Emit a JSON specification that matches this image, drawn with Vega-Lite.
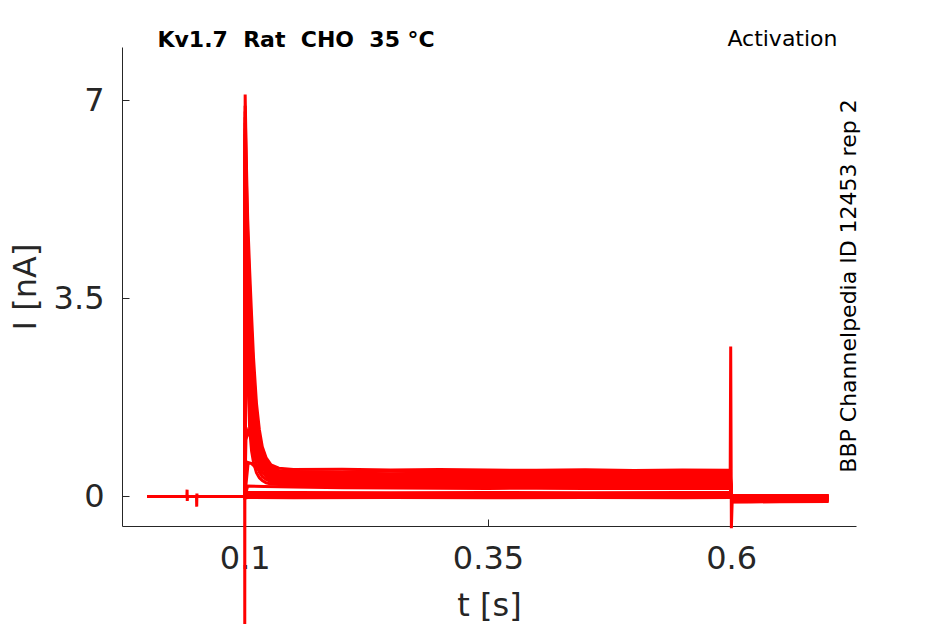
{
  "$schema": "https://vega.github.io/schema/vega-lite/v6.json",
  "width": 734,
  "height": 479,
  "autosize": "none",
  "padding": {"left": 122, "top": 47, "right": 89, "bottom": 98},
  "background": "white",
  "config": {
    "view": {"stroke": null},
    "axis": {
      "domainColor": "#262626",
      "tickColor": "#262626",
      "labelColor": "#262626",
      "titleColor": "#262626",
      "labelFont": "DejaVu Sans",
      "titleFont": "DejaVu Sans",
      "labelFontSize": 32,
      "titleFontSize": 32,
      "titleFontWeight": "normal",
      "grid": false,
      "tickSize": -7,
      "domainWidth": 1,
      "tickWidth": 1
    }
  },
  "data": {
    "values": [
      {"sweep": "b1", "t": 0, "i": 0},
      {"sweep": "b1", "t": 0.0999, "i": 0},
      {"sweep": "b1", "t": 0.1, "i": -2.3},
      {"sweep": "b1", "t": 0.1004, "i": 7.1},
      {"sweep": "b1", "t": 0.1015, "i": 6.0},
      {"sweep": "b1", "t": 0.103, "i": 4.9},
      {"sweep": "b1", "t": 0.105, "i": 4.0},
      {"sweep": "b1", "t": 0.107, "i": 3.2},
      {"sweep": "b1", "t": 0.109, "i": 2.45},
      {"sweep": "b1", "t": 0.112, "i": 1.65},
      {"sweep": "b1", "t": 0.115, "i": 1.18},
      {"sweep": "b1", "t": 0.118, "i": 0.88},
      {"sweep": "b1", "t": 0.122, "i": 0.68},
      {"sweep": "b1", "t": 0.127, "i": 0.56},
      {"sweep": "b1", "t": 0.135, "i": 0.5},
      {"sweep": "b1", "t": 0.15, "i": 0.475},
      {"sweep": "b1", "t": 0.2, "i": 0.48},
      {"sweep": "b1", "t": 0.25, "i": 0.468},
      {"sweep": "b1", "t": 0.3, "i": 0.476},
      {"sweep": "b1", "t": 0.35, "i": 0.466},
      {"sweep": "b1", "t": 0.4, "i": 0.462},
      {"sweep": "b1", "t": 0.45, "i": 0.472},
      {"sweep": "b1", "t": 0.5, "i": 0.458},
      {"sweep": "b1", "t": 0.55, "i": 0.466},
      {"sweep": "b1", "t": 0.599, "i": 0.462},
      {"sweep": "b1", "t": 0.5995, "i": 2.65},
      {"sweep": "b1", "t": 0.6002, "i": -0.56},
      {"sweep": "b1", "t": 0.601, "i": -0.1},
      {"sweep": "b1", "t": 0.62, "i": -0.097},
      {"sweep": "b1", "t": 0.65, "i": -0.094},
      {"sweep": "b1", "t": 0.7, "i": -0.09},

      {"sweep": "b2", "t": 0, "i": 0},
      {"sweep": "b2", "t": 0.0999, "i": 0},
      {"sweep": "b2", "t": 0.1, "i": 0},
      {"sweep": "b2", "t": 0.1004, "i": 6.9},
      {"sweep": "b2", "t": 0.1015, "i": 5.7},
      {"sweep": "b2", "t": 0.103, "i": 4.6},
      {"sweep": "b2", "t": 0.105, "i": 3.7},
      {"sweep": "b2", "t": 0.107, "i": 2.9},
      {"sweep": "b2", "t": 0.109, "i": 2.2},
      {"sweep": "b2", "t": 0.112, "i": 1.5},
      {"sweep": "b2", "t": 0.115, "i": 1.08},
      {"sweep": "b2", "t": 0.118, "i": 0.81},
      {"sweep": "b2", "t": 0.122, "i": 0.63},
      {"sweep": "b2", "t": 0.127, "i": 0.52},
      {"sweep": "b2", "t": 0.135, "i": 0.46},
      {"sweep": "b2", "t": 0.15, "i": 0.44},
      {"sweep": "b2", "t": 0.2, "i": 0.434},
      {"sweep": "b2", "t": 0.25, "i": 0.448},
      {"sweep": "b2", "t": 0.3, "i": 0.438},
      {"sweep": "b2", "t": 0.35, "i": 0.45},
      {"sweep": "b2", "t": 0.4, "i": 0.432},
      {"sweep": "b2", "t": 0.45, "i": 0.444},
      {"sweep": "b2", "t": 0.5, "i": 0.449},
      {"sweep": "b2", "t": 0.55, "i": 0.435},
      {"sweep": "b2", "t": 0.599, "i": 0.443},
      {"sweep": "b2", "t": 0.6008, "i": -0.093},
      {"sweep": "b2", "t": 0.62, "i": -0.09},
      {"sweep": "b2", "t": 0.65, "i": -0.087},
      {"sweep": "b2", "t": 0.7, "i": -0.083},

      {"sweep": "b3", "t": 0, "i": 0},
      {"sweep": "b3", "t": 0.0999, "i": 0},
      {"sweep": "b3", "t": 0.1, "i": 0},
      {"sweep": "b3", "t": 0.1004, "i": 6.8},
      {"sweep": "b3", "t": 0.1015, "i": 5.4},
      {"sweep": "b3", "t": 0.103, "i": 4.3},
      {"sweep": "b3", "t": 0.105, "i": 3.4},
      {"sweep": "b3", "t": 0.107, "i": 2.7},
      {"sweep": "b3", "t": 0.109, "i": 2.05},
      {"sweep": "b3", "t": 0.112, "i": 1.4},
      {"sweep": "b3", "t": 0.115, "i": 1.0},
      {"sweep": "b3", "t": 0.118, "i": 0.76},
      {"sweep": "b3", "t": 0.122, "i": 0.58},
      {"sweep": "b3", "t": 0.127, "i": 0.48},
      {"sweep": "b3", "t": 0.135, "i": 0.43},
      {"sweep": "b3", "t": 0.15, "i": 0.41},
      {"sweep": "b3", "t": 0.2, "i": 0.414},
      {"sweep": "b3", "t": 0.25, "i": 0.401},
      {"sweep": "b3", "t": 0.3, "i": 0.416},
      {"sweep": "b3", "t": 0.35, "i": 0.407},
      {"sweep": "b3", "t": 0.4, "i": 0.421},
      {"sweep": "b3", "t": 0.45, "i": 0.404},
      {"sweep": "b3", "t": 0.5, "i": 0.412},
      {"sweep": "b3", "t": 0.55, "i": 0.418},
      {"sweep": "b3", "t": 0.599, "i": 0.406},
      {"sweep": "b3", "t": 0.6008, "i": -0.085},
      {"sweep": "b3", "t": 0.62, "i": -0.082},
      {"sweep": "b3", "t": 0.65, "i": -0.079},
      {"sweep": "b3", "t": 0.7, "i": -0.075},

      {"sweep": "b4", "t": 0, "i": 0},
      {"sweep": "b4", "t": 0.0999, "i": 0},
      {"sweep": "b4", "t": 0.1, "i": 0},
      {"sweep": "b4", "t": 0.1004, "i": 6.7},
      {"sweep": "b4", "t": 0.1015, "i": 5.1},
      {"sweep": "b4", "t": 0.103, "i": 4.0},
      {"sweep": "b4", "t": 0.105, "i": 3.1},
      {"sweep": "b4", "t": 0.107, "i": 2.4},
      {"sweep": "b4", "t": 0.109, "i": 1.85},
      {"sweep": "b4", "t": 0.112, "i": 1.27},
      {"sweep": "b4", "t": 0.115, "i": 0.92},
      {"sweep": "b4", "t": 0.118, "i": 0.7},
      {"sweep": "b4", "t": 0.122, "i": 0.54},
      {"sweep": "b4", "t": 0.127, "i": 0.44},
      {"sweep": "b4", "t": 0.135, "i": 0.4},
      {"sweep": "b4", "t": 0.15, "i": 0.38},
      {"sweep": "b4", "t": 0.2, "i": 0.39},
      {"sweep": "b4", "t": 0.25, "i": 0.375},
      {"sweep": "b4", "t": 0.3, "i": 0.388},
      {"sweep": "b4", "t": 0.35, "i": 0.38},
      {"sweep": "b4", "t": 0.4, "i": 0.374},
      {"sweep": "b4", "t": 0.45, "i": 0.392},
      {"sweep": "b4", "t": 0.5, "i": 0.376},
      {"sweep": "b4", "t": 0.55, "i": 0.386},
      {"sweep": "b4", "t": 0.599, "i": 0.38},
      {"sweep": "b4", "t": 0.6008, "i": -0.078},
      {"sweep": "b4", "t": 0.62, "i": -0.075},
      {"sweep": "b4", "t": 0.65, "i": -0.072},
      {"sweep": "b4", "t": 0.7, "i": -0.068},

      {"sweep": "b5", "t": 0, "i": 0},
      {"sweep": "b5", "t": 0.0999, "i": 0},
      {"sweep": "b5", "t": 0.1, "i": 0},
      {"sweep": "b5", "t": 0.1004, "i": 6.6},
      {"sweep": "b5", "t": 0.1015, "i": 4.8},
      {"sweep": "b5", "t": 0.103, "i": 3.7},
      {"sweep": "b5", "t": 0.105, "i": 2.8},
      {"sweep": "b5", "t": 0.107, "i": 2.2},
      {"sweep": "b5", "t": 0.109, "i": 1.65},
      {"sweep": "b5", "t": 0.112, "i": 1.15},
      {"sweep": "b5", "t": 0.115, "i": 0.84},
      {"sweep": "b5", "t": 0.118, "i": 0.64},
      {"sweep": "b5", "t": 0.122, "i": 0.5},
      {"sweep": "b5", "t": 0.127, "i": 0.41},
      {"sweep": "b5", "t": 0.135, "i": 0.37},
      {"sweep": "b5", "t": 0.15, "i": 0.35},
      {"sweep": "b5", "t": 0.2, "i": 0.344},
      {"sweep": "b5", "t": 0.25, "i": 0.358},
      {"sweep": "b5", "t": 0.3, "i": 0.348},
      {"sweep": "b5", "t": 0.35, "i": 0.36},
      {"sweep": "b5", "t": 0.4, "i": 0.342},
      {"sweep": "b5", "t": 0.45, "i": 0.354},
      {"sweep": "b5", "t": 0.5, "i": 0.359},
      {"sweep": "b5", "t": 0.55, "i": 0.345},
      {"sweep": "b5", "t": 0.599, "i": 0.353},
      {"sweep": "b5", "t": 0.6008, "i": -0.07},
      {"sweep": "b5", "t": 0.62, "i": -0.067},
      {"sweep": "b5", "t": 0.65, "i": -0.064},
      {"sweep": "b5", "t": 0.7, "i": -0.06},

      {"sweep": "b6", "t": 0, "i": 0},
      {"sweep": "b6", "t": 0.0999, "i": 0},
      {"sweep": "b6", "t": 0.1, "i": 0},
      {"sweep": "b6", "t": 0.1004, "i": 6.5},
      {"sweep": "b6", "t": 0.1015, "i": 4.5},
      {"sweep": "b6", "t": 0.103, "i": 3.4},
      {"sweep": "b6", "t": 0.105, "i": 2.5},
      {"sweep": "b6", "t": 0.107, "i": 1.9},
      {"sweep": "b6", "t": 0.109, "i": 1.45},
      {"sweep": "b6", "t": 0.112, "i": 1.02},
      {"sweep": "b6", "t": 0.115, "i": 0.76},
      {"sweep": "b6", "t": 0.118, "i": 0.58},
      {"sweep": "b6", "t": 0.122, "i": 0.46},
      {"sweep": "b6", "t": 0.127, "i": 0.38},
      {"sweep": "b6", "t": 0.135, "i": 0.34},
      {"sweep": "b6", "t": 0.15, "i": 0.32},
      {"sweep": "b6", "t": 0.2, "i": 0.324},
      {"sweep": "b6", "t": 0.25, "i": 0.311},
      {"sweep": "b6", "t": 0.3, "i": 0.326},
      {"sweep": "b6", "t": 0.35, "i": 0.317},
      {"sweep": "b6", "t": 0.4, "i": 0.331},
      {"sweep": "b6", "t": 0.45, "i": 0.314},
      {"sweep": "b6", "t": 0.5, "i": 0.322},
      {"sweep": "b6", "t": 0.55, "i": 0.328},
      {"sweep": "b6", "t": 0.599, "i": 0.316},
      {"sweep": "b6", "t": 0.6008, "i": -0.063},
      {"sweep": "b6", "t": 0.62, "i": -0.06},
      {"sweep": "b6", "t": 0.65, "i": -0.057},
      {"sweep": "b6", "t": 0.7, "i": -0.053},

      {"sweep": "b7", "t": 0, "i": 0},
      {"sweep": "b7", "t": 0.0999, "i": 0},
      {"sweep": "b7", "t": 0.1, "i": 0},
      {"sweep": "b7", "t": 0.1004, "i": 6.4},
      {"sweep": "b7", "t": 0.1015, "i": 4.2},
      {"sweep": "b7", "t": 0.103, "i": 3.1},
      {"sweep": "b7", "t": 0.105, "i": 2.1},
      {"sweep": "b7", "t": 0.107, "i": 1.6},
      {"sweep": "b7", "t": 0.109, "i": 1.25},
      {"sweep": "b7", "t": 0.112, "i": 0.88},
      {"sweep": "b7", "t": 0.115, "i": 0.66},
      {"sweep": "b7", "t": 0.118, "i": 0.51},
      {"sweep": "b7", "t": 0.122, "i": 0.41},
      {"sweep": "b7", "t": 0.127, "i": 0.34},
      {"sweep": "b7", "t": 0.135, "i": 0.31},
      {"sweep": "b7", "t": 0.15, "i": 0.29},
      {"sweep": "b7", "t": 0.2, "i": 0.3},
      {"sweep": "b7", "t": 0.25, "i": 0.285},
      {"sweep": "b7", "t": 0.3, "i": 0.298},
      {"sweep": "b7", "t": 0.35, "i": 0.29},
      {"sweep": "b7", "t": 0.4, "i": 0.284},
      {"sweep": "b7", "t": 0.45, "i": 0.302},
      {"sweep": "b7", "t": 0.5, "i": 0.286},
      {"sweep": "b7", "t": 0.55, "i": 0.296},
      {"sweep": "b7", "t": 0.599, "i": 0.29},
      {"sweep": "b7", "t": 0.6008, "i": -0.056},
      {"sweep": "b7", "t": 0.62, "i": -0.053},
      {"sweep": "b7", "t": 0.65, "i": -0.05},
      {"sweep": "b7", "t": 0.7, "i": -0.046},

      {"sweep": "b8", "t": 0, "i": 0},
      {"sweep": "b8", "t": 0.0999, "i": 0},
      {"sweep": "b8", "t": 0.1, "i": 0},
      {"sweep": "b8", "t": 0.1004, "i": 6.3},
      {"sweep": "b8", "t": 0.1015, "i": 3.9},
      {"sweep": "b8", "t": 0.103, "i": 2.8},
      {"sweep": "b8", "t": 0.105, "i": 1.8},
      {"sweep": "b8", "t": 0.107, "i": 1.3},
      {"sweep": "b8", "t": 0.109, "i": 1.0},
      {"sweep": "b8", "t": 0.112, "i": 0.72},
      {"sweep": "b8", "t": 0.115, "i": 0.54},
      {"sweep": "b8", "t": 0.118, "i": 0.43},
      {"sweep": "b8", "t": 0.122, "i": 0.35},
      {"sweep": "b8", "t": 0.127, "i": 0.3},
      {"sweep": "b8", "t": 0.135, "i": 0.28},
      {"sweep": "b8", "t": 0.15, "i": 0.26},
      {"sweep": "b8", "t": 0.2, "i": 0.254},
      {"sweep": "b8", "t": 0.25, "i": 0.268},
      {"sweep": "b8", "t": 0.3, "i": 0.258},
      {"sweep": "b8", "t": 0.35, "i": 0.27},
      {"sweep": "b8", "t": 0.4, "i": 0.252},
      {"sweep": "b8", "t": 0.45, "i": 0.264},
      {"sweep": "b8", "t": 0.5, "i": 0.269},
      {"sweep": "b8", "t": 0.55, "i": 0.255},
      {"sweep": "b8", "t": 0.599, "i": 0.263},
      {"sweep": "b8", "t": 0.6008, "i": -0.049},
      {"sweep": "b8", "t": 0.62, "i": -0.046},
      {"sweep": "b8", "t": 0.65, "i": -0.043},
      {"sweep": "b8", "t": 0.7, "i": -0.04},

      {"sweep": "b9", "t": 0, "i": 0},
      {"sweep": "b9", "t": 0.0999, "i": 0},
      {"sweep": "b9", "t": 0.1, "i": 0},
      {"sweep": "b9", "t": 0.1004, "i": 6.1},
      {"sweep": "b9", "t": 0.1015, "i": 3.6},
      {"sweep": "b9", "t": 0.103, "i": 2.5},
      {"sweep": "b9", "t": 0.105, "i": 1.5},
      {"sweep": "b9", "t": 0.107, "i": 1.05},
      {"sweep": "b9", "t": 0.109, "i": 0.8},
      {"sweep": "b9", "t": 0.112, "i": 0.57},
      {"sweep": "b9", "t": 0.115, "i": 0.43},
      {"sweep": "b9", "t": 0.118, "i": 0.35},
      {"sweep": "b9", "t": 0.122, "i": 0.3},
      {"sweep": "b9", "t": 0.127, "i": 0.26},
      {"sweep": "b9", "t": 0.135, "i": 0.245},
      {"sweep": "b9", "t": 0.15, "i": 0.23},
      {"sweep": "b9", "t": 0.2, "i": 0.234},
      {"sweep": "b9", "t": 0.25, "i": 0.221},
      {"sweep": "b9", "t": 0.3, "i": 0.236},
      {"sweep": "b9", "t": 0.35, "i": 0.227},
      {"sweep": "b9", "t": 0.4, "i": 0.241},
      {"sweep": "b9", "t": 0.45, "i": 0.224},
      {"sweep": "b9", "t": 0.5, "i": 0.232},
      {"sweep": "b9", "t": 0.55, "i": 0.238},
      {"sweep": "b9", "t": 0.599, "i": 0.226},
      {"sweep": "b9", "t": 0.6008, "i": -0.041},
      {"sweep": "b9", "t": 0.62, "i": -0.038},
      {"sweep": "b9", "t": 0.65, "i": -0.035},
      {"sweep": "b9", "t": 0.7, "i": -0.032},

      {"sweep": "b10", "t": 0, "i": 0},
      {"sweep": "b10", "t": 0.0999, "i": 0},
      {"sweep": "b10", "t": 0.1, "i": 0},
      {"sweep": "b10", "t": 0.1004, "i": 6.0},
      {"sweep": "b10", "t": 0.1015, "i": 3.3},
      {"sweep": "b10", "t": 0.103, "i": 2.2},
      {"sweep": "b10", "t": 0.105, "i": 1.2},
      {"sweep": "b10", "t": 0.107, "i": 0.8},
      {"sweep": "b10", "t": 0.109, "i": 0.6},
      {"sweep": "b10", "t": 0.112, "i": 0.42},
      {"sweep": "b10", "t": 0.115, "i": 0.33},
      {"sweep": "b10", "t": 0.118, "i": 0.28},
      {"sweep": "b10", "t": 0.122, "i": 0.24},
      {"sweep": "b10", "t": 0.127, "i": 0.22},
      {"sweep": "b10", "t": 0.135, "i": 0.21},
      {"sweep": "b10", "t": 0.15, "i": 0.2},
      {"sweep": "b10", "t": 0.2, "i": 0.21},
      {"sweep": "b10", "t": 0.25, "i": 0.195},
      {"sweep": "b10", "t": 0.3, "i": 0.208},
      {"sweep": "b10", "t": 0.35, "i": 0.2},
      {"sweep": "b10", "t": 0.4, "i": 0.194},
      {"sweep": "b10", "t": 0.45, "i": 0.212},
      {"sweep": "b10", "t": 0.5, "i": 0.196},
      {"sweep": "b10", "t": 0.55, "i": 0.206},
      {"sweep": "b10", "t": 0.599, "i": 0.2},
      {"sweep": "b10", "t": 0.6008, "i": -0.034},
      {"sweep": "b10", "t": 0.62, "i": -0.031},
      {"sweep": "b10", "t": 0.65, "i": -0.028},
      {"sweep": "b10", "t": 0.7, "i": -0.025},

      {"sweep": "h1", "t": 0, "i": 0},
      {"sweep": "h1", "t": 0.0999, "i": 0},
      {"sweep": "h1", "t": 0.1, "i": 0},
      {"sweep": "h1", "t": 0.1012, "i": 1.0},
      {"sweep": "h1", "t": 0.1034, "i": 1.15},
      {"sweep": "h1", "t": 0.106, "i": 1.05},
      {"sweep": "h1", "t": 0.11, "i": 0.88},
      {"sweep": "h1", "t": 0.114, "i": 0.72},
      {"sweep": "h1", "t": 0.118, "i": 0.6},
      {"sweep": "h1", "t": 0.123, "i": 0.45},
      {"sweep": "h1", "t": 0.13, "i": 0.32},
      {"sweep": "h1", "t": 0.14, "i": 0.24},
      {"sweep": "h1", "t": 0.15, "i": 0.2},
      {"sweep": "h1", "t": 0.2, "i": 0.174},
      {"sweep": "h1", "t": 0.25, "i": 0.178},
      {"sweep": "h1", "t": 0.3, "i": 0.168},
      {"sweep": "h1", "t": 0.35, "i": 0.18},
      {"sweep": "h1", "t": 0.4, "i": 0.164},
      {"sweep": "h1", "t": 0.45, "i": 0.174},
      {"sweep": "h1", "t": 0.5, "i": 0.179},
      {"sweep": "h1", "t": 0.55, "i": 0.167},
      {"sweep": "h1", "t": 0.599, "i": 0.173},
      {"sweep": "h1", "t": 0.6008, "i": -0.027},
      {"sweep": "h1", "t": 0.62, "i": -0.024},
      {"sweep": "h1", "t": 0.65, "i": -0.021},
      {"sweep": "h1", "t": 0.7, "i": -0.018},

      {"sweep": "h2", "t": 0, "i": 0},
      {"sweep": "h2", "t": 0.0999, "i": 0},
      {"sweep": "h2", "t": 0.1, "i": 0},
      {"sweep": "h2", "t": 0.1035, "i": 0.6},
      {"sweep": "h2", "t": 0.107, "i": 0.58},
      {"sweep": "h2", "t": 0.112, "i": 0.5},
      {"sweep": "h2", "t": 0.12, "i": 0.4},
      {"sweep": "h2", "t": 0.13, "i": 0.3},
      {"sweep": "h2", "t": 0.14, "i": 0.25},
      {"sweep": "h2", "t": 0.15, "i": 0.22},
      {"sweep": "h2", "t": 0.2, "i": 0.18},
      {"sweep": "h2", "t": 0.25, "i": 0.164},
      {"sweep": "h2", "t": 0.3, "i": 0.162},
      {"sweep": "h2", "t": 0.35, "i": 0.155},
      {"sweep": "h2", "t": 0.4, "i": 0.16},
      {"sweep": "h2", "t": 0.45, "i": 0.153},
      {"sweep": "h2", "t": 0.5, "i": 0.159},
      {"sweep": "h2", "t": 0.55, "i": 0.154},
      {"sweep": "h2", "t": 0.599, "i": 0.157},
      {"sweep": "h2", "t": 0.6008, "i": -0.023},
      {"sweep": "h2", "t": 0.62, "i": -0.02},
      {"sweep": "h2", "t": 0.65, "i": -0.017},
      {"sweep": "h2", "t": 0.7, "i": -0.014},

      {"sweep": "h3", "t": 0, "i": 0},
      {"sweep": "h3", "t": 0.0999, "i": 0},
      {"sweep": "h3", "t": 0.1, "i": 0},
      {"sweep": "h3", "t": 0.103, "i": 0.185},
      {"sweep": "h3", "t": 0.12, "i": 0.175},
      {"sweep": "h3", "t": 0.15, "i": 0.165},
      {"sweep": "h3", "t": 0.2, "i": 0.155},
      {"sweep": "h3", "t": 0.25, "i": 0.15},
      {"sweep": "h3", "t": 0.3, "i": 0.146},
      {"sweep": "h3", "t": 0.35, "i": 0.142},
      {"sweep": "h3", "t": 0.4, "i": 0.144},
      {"sweep": "h3", "t": 0.45, "i": 0.14},
      {"sweep": "h3", "t": 0.5, "i": 0.142},
      {"sweep": "h3", "t": 0.55, "i": 0.139},
      {"sweep": "h3", "t": 0.599, "i": 0.141},
      {"sweep": "h3", "t": 0.6008, "i": -0.019},
      {"sweep": "h3", "t": 0.62, "i": -0.016},
      {"sweep": "h3", "t": 0.65, "i": -0.013},
      {"sweep": "h3", "t": 0.7, "i": -0.01},

      {"sweep": "l1", "t": 0, "i": 0},
      {"sweep": "l1", "t": 0.0999, "i": 0},
      {"sweep": "l1", "t": 0.1, "i": 0},
      {"sweep": "l1", "t": 0.1006, "i": 0.11},
      {"sweep": "l1", "t": 0.103, "i": 0.072},
      {"sweep": "l1", "t": 0.15, "i": 0.07},
      {"sweep": "l1", "t": 0.25, "i": 0.066},
      {"sweep": "l1", "t": 0.35, "i": 0.071},
      {"sweep": "l1", "t": 0.45, "i": 0.065},
      {"sweep": "l1", "t": 0.55, "i": 0.07},
      {"sweep": "l1", "t": 0.599, "i": 0.068},
      {"sweep": "l1", "t": 0.6008, "i": -0.004},
      {"sweep": "l1", "t": 0.65, "i": -0.001},
      {"sweep": "l1", "t": 0.7, "i": 0.002},

      {"sweep": "l2", "t": 0, "i": 0},
      {"sweep": "l2", "t": 0.0999, "i": 0},
      {"sweep": "l2", "t": 0.1, "i": 0},
      {"sweep": "l2", "t": 0.1006, "i": 0.08},
      {"sweep": "l2", "t": 0.103, "i": 0.047},
      {"sweep": "l2", "t": 0.15, "i": 0.044},
      {"sweep": "l2", "t": 0.25, "i": 0.049},
      {"sweep": "l2", "t": 0.35, "i": 0.042},
      {"sweep": "l2", "t": 0.45, "i": 0.048},
      {"sweep": "l2", "t": 0.55, "i": 0.043},
      {"sweep": "l2", "t": 0.599, "i": 0.046},
      {"sweep": "l2", "t": 0.6008, "i": 0.003},
      {"sweep": "l2", "t": 0.65, "i": 0.005},
      {"sweep": "l2", "t": 0.7, "i": 0.007},

      {"sweep": "l3", "t": 0, "i": 0},
      {"sweep": "l3", "t": 0.0999, "i": 0},
      {"sweep": "l3", "t": 0.1, "i": 0},
      {"sweep": "l3", "t": 0.1006, "i": 0.05},
      {"sweep": "l3", "t": 0.103, "i": 0.022},
      {"sweep": "l3", "t": 0.15, "i": 0.02},
      {"sweep": "l3", "t": 0.25, "i": 0.025},
      {"sweep": "l3", "t": 0.35, "i": 0.018},
      {"sweep": "l3", "t": 0.45, "i": 0.023},
      {"sweep": "l3", "t": 0.55, "i": 0.019},
      {"sweep": "l3", "t": 0.599, "i": 0.022},
      {"sweep": "l3", "t": 0.6008, "i": 0.009},
      {"sweep": "l3", "t": 0.65, "i": 0.011},
      {"sweep": "l3", "t": 0.7, "i": 0.012},

      {"sweep": "l4", "t": 0, "i": 0},
      {"sweep": "l4", "t": 0.0405, "i": 0},
      {"sweep": "l4", "t": 0.0407, "i": 0.12},
      {"sweep": "l4", "t": 0.0409, "i": -0.08},
      {"sweep": "l4", "t": 0.0411, "i": 0},
      {"sweep": "l4", "t": 0.0504, "i": 0},
      {"sweep": "l4", "t": 0.0506, "i": -0.18},
      {"sweep": "l4", "t": 0.0508, "i": 0.05},
      {"sweep": "l4", "t": 0.051, "i": 0},
      {"sweep": "l4", "t": 0.0999, "i": 0},
      {"sweep": "l4", "t": 0.1, "i": 0.03},
      {"sweep": "l4", "t": 0.103, "i": 0.004},
      {"sweep": "l4", "t": 0.15, "i": 0.002},
      {"sweep": "l4", "t": 0.25, "i": 0.005},
      {"sweep": "l4", "t": 0.35, "i": -0.002},
      {"sweep": "l4", "t": 0.45, "i": 0.003},
      {"sweep": "l4", "t": 0.55, "i": 0},
      {"sweep": "l4", "t": 0.599, "i": 0.002},
      {"sweep": "l4", "t": 0.6008, "i": 0.013},
      {"sweep": "l4", "t": 0.65, "i": 0.014},
      {"sweep": "l4", "t": 0.7, "i": 0.015},

      {"sweep": "l5", "t": 0, "i": 0},
      {"sweep": "l5", "t": 0.0999, "i": 0},
      {"sweep": "l5", "t": 0.1, "i": -0.03},
      {"sweep": "l5", "t": 0.103, "i": -0.02},
      {"sweep": "l5", "t": 0.15, "i": -0.022},
      {"sweep": "l5", "t": 0.25, "i": -0.017},
      {"sweep": "l5", "t": 0.35, "i": -0.024},
      {"sweep": "l5", "t": 0.45, "i": -0.019},
      {"sweep": "l5", "t": 0.55, "i": -0.023},
      {"sweep": "l5", "t": 0.599, "i": -0.02},
      {"sweep": "l5", "t": 0.6008, "i": 0.015},
      {"sweep": "l5", "t": 0.65, "i": 0.016},
      {"sweep": "l5", "t": 0.7, "i": 0.017}
    ]
  },
  "layer": [
    {
      "mark": {"type": "line", "color": "#ff0000", "strokeWidth": 3, "clip": false},
      "encoding": {
        "x": {
          "field": "t",
          "type": "quantitative",
          "title": "t [s]",
          "scale": {"domain": [-0.0262, 0.7283], "nice": false, "zero": false},
          "axis": {"values": [0.1, 0.35, 0.6], "format": "~g", "labelPadding": 24, "titlePadding": 16}
        },
        "y": {
          "field": "i",
          "type": "quantitative",
          "title": "I [nA]",
          "scale": {"domain": [-0.522, 7.94], "nice": false, "zero": false},
          "axis": {"values": [0, 3.5, 7], "format": "~g", "labelPadding": 25, "titlePadding": 11}
        },
        "detail": {"field": "sweep", "type": "nominal"}
      }
    },
    {
      "data": {"values": [{"label": "Kv1.7\u00a0\u00a0Rat\u00a0\u00a0CHO\u00a0\u00a035\u00a0°C"}]},
      "mark": {"type": "text", "align": "left", "baseline": "alphabetic", "font": "DejaVu Sans", "fontSize": 22, "fontWeight": "bold", "color": "#000000"},
      "encoding": {
        "x": {"datum": 0.01026, "type": "quantitative"},
        "y": {"datum": 7.935, "type": "quantitative"},
        "text": {"field": "label"}
      }
    },
    {
      "data": {"values": [{"label": "Activation"}]},
      "mark": {"type": "text", "align": "right", "baseline": "alphabetic", "font": "DejaVu Sans", "fontSize": 22, "color": "#000000"},
      "encoding": {
        "x": {"datum": 0.7093, "type": "quantitative"},
        "y": {"datum": 7.953, "type": "quantitative"},
        "text": {"field": "label"}
      }
    },
    {
      "data": {"values": [{"label": "BBP Channelpedia ID 12453 rep 2"}]},
      "mark": {"type": "text", "align": "center", "baseline": "alphabetic", "angle": 270, "font": "DejaVu Sans", "fontSize": 22, "color": "#000000"},
      "encoding": {
        "x": {"datum": 0.7288, "type": "quantitative"},
        "y": {"datum": 3.718, "type": "quantitative"},
        "text": {"field": "label"}
      }
    }
  ]
}
